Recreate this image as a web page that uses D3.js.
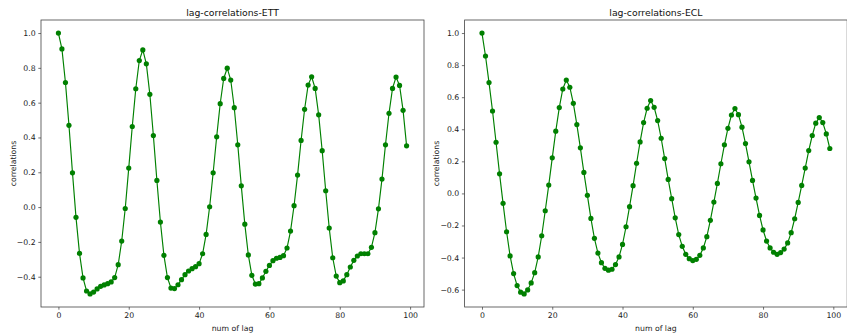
<!DOCTYPE html>
<html><head><meta charset="utf-8">
<script src="https://cdn.jsdelivr.net/npm/d3@7"></script>
<style>body{margin:0;background:#fff}svg{display:block}text{font-family:"DejaVu Sans",sans-serif}</style>
</head><body>
<script>
const lags = d3.range(0, 100);
const ettCorr = [1.0,0.909,0.716,0.470,0.197,-0.059,-0.266,-0.407,-0.482,-0.499,
-0.488,-0.470,-0.455,-0.447,-0.440,-0.430,-0.405,-0.331,-0.195,-0.008,
0.224,0.463,0.680,0.842,0.903,0.823,0.648,0.411,0.153,-0.086,
-0.277,-0.405,-0.465,-0.468,-0.446,-0.417,-0.388,-0.367,-0.354,-0.342,
-0.325,-0.268,-0.157,0.002,0.197,0.404,0.594,0.739,0.798,0.730,
0.571,0.358,0.122,-0.098,-0.275,-0.392,-0.442,-0.440,-0.407,-0.369,
-0.335,-0.308,-0.294,-0.289,-0.279,-0.235,-0.138,0.008,0.184,0.383,
0.562,0.701,0.749,0.682,0.530,0.324,0.094,-0.120,-0.291,-0.396,
-0.434,-0.424,-0.388,-0.344,-0.306,-0.281,-0.268,-0.268,-0.268,-0.231,
-0.147,-0.010,0.161,0.358,0.539,0.682,0.747,0.699,0.556,0.352];
const eclCorr = [1.0,0.857,0.691,0.514,0.319,0.122,-0.062,-0.239,-0.390,-0.500,
-0.575,-0.616,-0.627,-0.602,-0.558,-0.494,-0.396,-0.264,-0.108,0.052,
0.222,0.388,0.535,0.651,0.707,0.662,0.562,0.429,0.284,0.131,
-0.012,-0.156,-0.280,-0.372,-0.432,-0.467,-0.479,-0.473,-0.444,-0.396,
-0.318,-0.208,-0.083,0.048,0.188,0.321,0.442,0.531,0.579,0.537,
0.454,0.344,0.217,0.087,-0.033,-0.152,-0.257,-0.330,-0.380,-0.407,
-0.419,-0.411,-0.386,-0.340,-0.270,-0.168,-0.054,0.062,0.185,0.303,
0.406,0.489,0.529,0.491,0.413,0.311,0.197,0.081,-0.029,-0.137,
-0.228,-0.297,-0.340,-0.367,-0.380,-0.369,-0.347,-0.309,-0.245,-0.158,
-0.056,0.050,0.158,0.267,0.361,0.438,0.473,0.442,0.371,0.280];
const xTicks = [0, 20, 40, 60, 80, 100];
const ettYTicks = [-0.4, -0.2, 0.0, 0.2, 0.4, 0.6, 0.8, 1.0];
const eclYTicks = [-0.6, -0.4, -0.2, 0.0, 0.2, 0.4, 0.6, 0.8, 1.0];
const titles = ["lag-correlations-ETT", "lag-correlations-ECL"];

const W = 847, H = 333;
const svg = d3.select("body").append("svg").attr("width", W).attr("height", H);

function panel(x0, x1, vals, yTicks, title) {
  const top = 20, bottom = 307;
  const xExt = d3.extent(lags), xm = (xExt[1]-xExt[0])*0.05;
  const yExt = d3.extent(vals), ym = (yExt[1]-yExt[0])*0.05;
  const x = d3.scaleLinear().domain([xExt[0]-xm, xExt[1]+xm]).range([x0, x1]);
  const y = d3.scaleLinear().domain([yExt[0]-ym, yExt[1]+ym]).range([bottom, top]);
  const g = svg.append("g");
  const fmt = d => d3.format(".1f")(d);
  const xa = g.append("g").attr("transform", `translate(0,${bottom})`)
    .call(d3.axisBottom(x).tickValues(xTicks).tickSize(2.7).tickPadding(2.7).tickFormat(d3.format("d")));
  const ya = g.append("g").attr("transform", `translate(${x0},0)`)
    .call(d3.axisLeft(y).tickValues(yTicks).tickSize(2.7).tickPadding(2.7).tickFormat(fmt));
  [xa, ya].forEach(a => {
    a.select(".domain").remove();
    a.selectAll("line").attr("stroke", "#333").attr("stroke-width", 0.7);
    a.selectAll("text").attr("fill", "#222").style("font-size", "7.75px");
  });
  g.append("rect").attr("x", x0).attr("y", top).attr("width", x1-x0).attr("height", bottom-top)
    .attr("fill", "none").attr("stroke", "#444").attr("stroke-width", 0.8);
  const line = d3.line().x((d,i) => x(lags[i])).y(d => y(d));
  g.append("path").datum(vals).attr("d", line).attr("fill", "none")
    .attr("stroke", "#008000").attr("stroke-width", 1.16);
  g.selectAll("circle.pt").data(vals).enter().append("circle")
    .attr("cx", (d,i) => x(lags[i])).attr("cy", d => y(d)).attr("r", 2.6).attr("fill", "#008000");
  g.append("text").attr("x", (x0+x1)/2).attr("y", 15.5).attr("text-anchor", "middle")
    .style("font-size", "9.3px").attr("fill", "#111").text(title);
  g.append("text").attr("x", (x0+x1)/2).attr("y", 330.5).attr("text-anchor", "middle")
    .style("font-size", "7.75px").attr("fill", "#222").text("num of lag");
  g.append("text").attr("transform", `translate(${x0-25.5},${(top+bottom)/2}) rotate(-90)`)
    .attr("text-anchor", "middle").style("font-size", "7.75px").attr("fill", "#222").text("correlations");
}
panel(41, 424, ettCorr, ettYTicks, titles[0]);
panel(464.6, 847.2, eclCorr, eclYTicks, titles[1]);
</script>
</body></html>
